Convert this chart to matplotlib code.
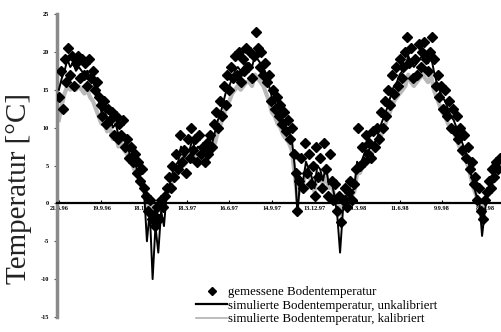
import numpy as np
import matplotlib
matplotlib.use("Agg")
import matplotlib.pyplot as plt
from matplotlib.lines import Line2D

# ---- data (days since 21.6.96) ----
measured_step = 4
measured = [
    14, 17.5, 12.5, 19, 16, 20.5, 17, 19.5, 15.5, 18.5,
    19.5, 16.5, 19, 17, 18.5, 15.5, 19, 16.5, 17.5, 15,
    16, 14, 13, 11.5, 13.5, 10.5, 12.5, 11, 12, 9,
    11.5, 8.5, 10.5, 9, 11, 7.5, 8.5, 6, 7.5, 5.5,
    6.5, 4, 5.5, 3, 4.5, 2, 1, -1, 0.5, -2,
    -1.5, -3, -0.5, -2, 0.5, -0.5, 1, 2, 3.5, 2,
    5, 3.5, 6.5, 4.5, 9, 5.5, 7, 4, 8.5, 6,
    10, 7, 8.5, 5.5, 9, 6.5, 7.5, 5.5, 8, 6.5,
    9, 7.5, 10.5, 12, 10, 13.5, 11.5, 15.5, 13, 17,
    15, 18, 16.5, 19.5, 17, 20, 16, 19, 17.5, 20.5,
    18, 20, 16.5, 19.5, 22.6, 20.5, 18, 20, 17, 18.5,
    16, 17, 13.5, 15, 12.5, 14, 11.5, 13, 10.5, 12,
    9.5, 11, 8.5, 10, 6.5, 4, -1, 3, 6, 2,
    8, 4, 6.5, 2.5, 5, 1, 7.5, 3.5, 6, 2,
    8, 4.5, 1, 6.5, 3, 0.5, 2.5, -1, 1, -2.5,
    0.5, 2, -0.5, 1.5, 3, 0.5, 2.5, 4.5, 10, 5,
    7.5, 5.5, 9, 6.5, 8, 6, 9.5, 7.5, 10, 8.5,
    12, 10, 13.5, 11.5, 15, 13, 17, 14.5, 18, 15.5,
    19, 16.5, 18, 20, 22, 18.5, 20.5, 16.5, 19, 17,
    21, 18, 20, 21.3, 19, 17.5, 20, 22, 19, 15.5,
    17, 14, 15.5, 12.5, 15, 11.5, 13.5, 10, 12.5, 9.5,
    11.5, 8.5, 10, 7, 9, 6, 7.5, 4.5, 5.5, 2.5,
    3.5, 0.5, 2, -1, -2, 0.5, 1.5, 3, 2, 4.5,
    3.5, 5.5, 4.5, 6,
]

sim_step = 6
sim_uncal = [
    15, 16.5, 17.5, 19, 18, 18.5, 17.5, 18, 17.5, 17,
    17.5, 16.5, 16, 15, 13.5, 12, 12.5, 11, 11.5, 10,
    10.5, 9, 9.5, 8.5, 7.5, 6.5, 6, 5, 4, 3,
    1.5, -5, -1, -10, -3, -6.5, -1, -3, 1.5, 2.5,
    4, 5, 5.5, 7.5, 6, 6.5, 7, 8.5, 7, 7.5,
    7, 6.5, 7, 7.5, 8, 9.5, 11, 12, 13.5, 15,
    15.5, 16.5, 17.5, 18, 17.5, 18, 18.5, 18.5, 18, 19.5,
    19, 18.5, 18, 17, 15.5, 14, 13.5, 12.5, 12, 11,
    10, 9.5, 8.5, 5, -1.5, 3.5, 3, 5.5, 4.5, 3.5,
    2, 5, 4.5, 3, 5, 2.5, 3, 1, -1.5, -6.5,
    -1, 1, 0.5, 1.5, 2, 5.5, 5, 6, 7, 7,
    7.5, 8, 8.5, 10, 11, 12, 13, 14.5, 15.5, 16,
    17, 17.5, 18, 19.5, 18.5, 18, 18.5, 19, 19.5, 19,
    18.5, 19.5, 17.5, 16, 15, 14, 13.5, 12.5, 11.5, 11,
    10, 9, 8, 7, 6, 4, 2.5, 1, 0.5, -4.3,
    -1, 1.5, 2.5, 3.5, 4.5, 5.5,
]

sim_cal = [
    11, 13, 14.5, 15.5, 15, 15.5, 15, 15.5, 15, 14.5,
    15, 14, 13.5, 12.5, 11.5, 10.5, 10.5, 9.5, 10, 8.5,
    9, 7.5, 8, 7, 6.5, 5.5, 5, 4, 3.5, 2.5,
    1.5, -0.5, 0.5, -1.5, 0, -1, 0.5, 0, 1, 2,
    3, 4, 4.5, 6, 5, 5.5, 6, 7, 6, 6.5,
    6, 5.5, 6, 6.5, 7, 8, 9.5, 10.5, 11.5, 13,
    13.5, 14.5, 15, 15.5, 15, 15.5, 16, 16, 15.5, 17,
    16.5, 16, 15.5, 14.5, 13.5, 12, 11.5, 10.5, 10, 9,
    8.5, 8, 7, 4, 0.5, 2.5, 2.5, 4.5, 3.5, 3,
    1.5, 4, 3.5, 2.5, 4, 2, 2.5, 1, 0, -1.5,
    0, 1, 0.5, 1, 1.5, 4, 4, 5, 6, 6,
    6.5, 7, 7.5, 8.5, 9.5, 10.5, 11.5, 12.5, 13.5, 14,
    14.5, 15, 15.5, 17, 16, 15.5, 16, 16.5, 17, 16.5,
    16, 17, 15, 14, 13, 12, 11.5, 10.5, 10, 9.5,
    8.5, 7.5, 7, 6, 5, 3.5, 2, 1, 0.5, -1,
    0, 1.5, 2, 3, 4, 5,
]

tick_days = [0, 90, 180, 270, 360, 450, 540, 630, 720, 810, 900]
tick_labels = ["21.6.96", "19.9.96", "18.12.96", "18.3.97", "16.6.97",
               "14.9.97", "13.12.97", "13.3.98", "11.6.98", "9.9.98", "8.12.98"]
y_ticks = [25, 20, 15, 10, 5, 0, -5, -10, -15]

legend_labels = ["gemessene Bodentemperatur",
                 "simulierte Bodentemperatur, unkalibriert",
                 "simulierte Bodentemperatur, kalibriert"]

# ---- figure ----
fig = plt.figure(figsize=(5.01, 3.32), dpi=100)
ax = fig.add_axes([57 / 501, 1 - 317 / 332, 1 - 57 / 501, (317 - 14) / 332])

d_meas = np.arange(len(measured)) * measured_step
d_sim = np.arange(len(sim_uncal)) * sim_step

ax.plot(d_sim, sim_cal, color="#b8b8b8", lw=3.0, zorder=2)
ax.plot(d_sim, sim_uncal, color="black", lw=1.4, zorder=3)
ax.plot(d_meas, measured, ls="none", marker="D", ms=4.6, color="black",
        mec="black", zorder=4)

ax.set_xlim(-4, 934)
ax.set_ylim(-15, 25)

for s in ["top", "right"]:
    ax.spines[s].set_visible(False)
ax.spines["bottom"].set_position(("data", 0))
ax.spines["bottom"].set_linewidth(1.6)
ax.spines["bottom"].set_color("black")
ax.spines["left"].set_linewidth(2.5)
ax.spines["left"].set_color("#8a8a8a")

ax.set_xticks(tick_days)
ax.set_xticklabels(tick_labels, fontsize=4.5, family="Liberation Serif",
                   fontweight="bold")
ax.tick_params(axis="x", direction="in", length=2.5, width=0.8, pad=2.0)
ax.set_yticks(y_ticks)
ax.set_yticklabels([str(v) for v in y_ticks], fontsize=4.5,
                   family="Liberation Serif", fontweight="bold")
ax.tick_params(axis="y", direction="out", length=2, width=0.8, pad=4,
               color="#555555")

fig.text(0.038, 1 - 189 / 332, "Temperatur [°C]", rotation=90,
         ha="center", va="center", fontsize=21, family="Liberation Serif",
         color="#222222")

handles = [
    Line2D([], [], ls="none", marker="D", ms=3.8, color="black"),
    Line2D([], [], color="black", lw=1.6),
    Line2D([], [], color="#b0b0b0", lw=1.2),
]
leg = fig.legend(handles, legend_labels, loc="upper left",
                 bbox_to_anchor=(196 / 501, 1 - 286 / 332),
                 frameon=False, prop={"family": "Liberation Serif", "size": 9.3},
                 handlelength=2.4, handletextpad=0.1, labelspacing=0.12,
                 borderpad=0, borderaxespad=0, markerfirst=True)

fig.savefig("out.png", dpi=100)
